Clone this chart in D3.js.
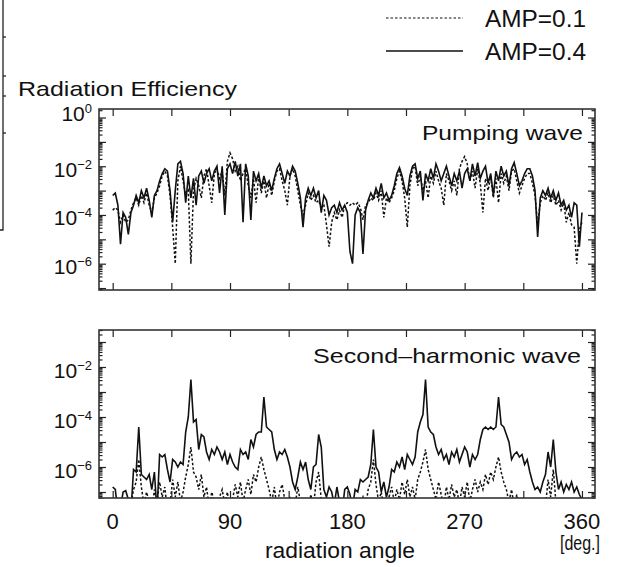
<!DOCTYPE html>
<html>
<head>
<meta charset="utf-8">
<script src="https://cdn.jsdelivr.net/npm/d3@7"></script>
<style>
  html, body { margin: 0; padding: 0; background: #fff; }
  svg { display: block; }
  text { font-family: "Liberation Sans", Arial, Helvetica, sans-serif; fill: #111; }
</style>
</head>
<body>
<svg id="chart" width="623" height="567"></svg>
<script>
// ---- DATA (log10 of radiation efficiency), sampled every 2 degrees from 0 to 360 ----
const angleStep = 2;
const angles = d3.range(0, 361, angleStep);

// Pumping wave, AMP=0.1 (dotted)
const pumpAmp01 = [
-3.8,-3.7,-3.8,-4.3,-4.0,-4.3,-4.2,-3.8,-3.5,-3.3,
-3.6,-3.2,-3.5,-3.1,-3.6,-3.9,-3.3,-3.1,-2.8,-2.4,
-2.2,-2.4,-3.2,-4.5,-6.0,-2.6,-2.0,-2.6,-3.2,-3.0,
-6.0,-3.0,-2.5,-2.8,-3.3,-2.4,-2.1,-2.8,-3.5,-2.3,
-2.1,-2.5,-2.2,-3.2,-1.8,-1.45,-1.7,-2.2,-2.0,-2.6,
-2.3,-2.1,-2.8,-3.3,-2.5,-3.5,-2.4,-3.1,-2.6,-3.3,
-2.7,-3.2,-2.6,-2.2,-2.1,-2.6,-3.0,-3.6,-2.4,-2.1,
-2.4,-3.0,-3.6,-4.0,-3.6,-3.1,-3.4,-3.2,-3.5,-3.4,
-3.7,-3.6,-4.4,-5.3,-4.3,-3.9,-4.2,-3.8,-4.1,-3.6,
-3.5,-3.6,-3.5,-3.6,-3.5,-3.7,-4.2,-3.6,-3.5,-3.3,
-3.4,-3.1,-3.4,-3.0,-4.1,-3.3,-3.5,-3.3,-3.0,-2.5,
-2.2,-2.6,-3.3,-4.5,-2.8,-2.1,-2.0,-2.8,-2.4,-3.0,
-2.6,-3.3,-2.4,-2.7,-2.2,-2.6,-2.9,-3.6,-2.3,-2.6,
-3.0,-2.6,-3.2,-2.1,-1.8,-1.6,-1.9,-2.6,-2.2,-2.9,
-2.1,-2.7,-3.9,-2.5,-3.0,-2.4,-3.3,-2.5,-3.5,-2.3,
-2.7,-2.4,-3.0,-2.2,-2.1,-2.6,-3.1,-2.8,-2.5,-2.3,
-2.3,-2.7,-3.2,-4.4,-3.5,-3.2,-3.4,-3.1,-3.5,-3.2,
-3.6,-3.4,-3.8,-3.5,-4.3,-3.9,-4.4,-4.5,-6.0,-4.6,
-4.3];

// Pumping wave, AMP=0.4 (solid)
const pumpAmp04 = [
-3.2,-3.1,-3.6,-5.2,-3.9,-4.1,-4.8,-3.9,-3.6,-3.2,
-3.5,-3.0,-3.3,-2.9,-3.4,-4.1,-3.2,-3.0,-2.6,-2.3,
-2.1,-2.2,-3.0,-4.3,-3.0,-1.9,-1.8,-2.3,-3.5,-2.4,
-3.3,-2.5,-3.6,-2.4,-2.2,-2.7,-2.3,-2.1,-2.6,-2.2,
-2.0,-3.1,-2.0,-4.0,-2.1,-1.9,-2.3,-1.8,-2.4,-1.9,
-4.3,-1.9,-2.4,-4.2,-2.2,-2.6,-2.3,-2.9,-2.4,-2.8,
-2.6,-3.0,-2.5,-2.1,-1.9,-2.3,-2.7,-2.2,-2.4,-2.0,
-2.2,-2.7,-3.3,-4.5,-3.3,-2.9,-3.2,-2.9,-3.3,-3.0,
-3.9,-3.2,-3.4,-4.0,-3.7,-3.6,-3.9,-3.5,-3.8,-3.6,
-3.9,-5.5,-6.0,-4.0,-3.7,-3.9,-5.6,-3.8,-3.4,-3.1,
-3.3,-2.9,-3.2,-2.7,-3.3,-3.1,-3.4,-3.2,-2.8,-2.3,
-2.05,-2.4,-2.9,-3.2,-2.4,-2.0,-1.9,-2.5,-2.2,-3.4,
-2.3,-2.6,-2.1,-2.5,-1.9,-2.2,-2.6,-2.3,-2.0,-2.4,
-2.8,-2.3,-2.6,-2.2,-2.9,-2.3,-2.1,-2.6,-1.9,-2.4,
-1.85,-2.5,-2.2,-2.0,-2.7,-2.3,-3.2,-2.2,-2.6,-2.0,
-2.4,-2.2,-2.8,-2.1,-1.85,-2.3,-2.8,-2.6,-2.3,-2.1,
-2.1,-2.4,-3.0,-4.9,-3.3,-3.0,-3.2,-2.9,-3.3,-3.0,
-3.4,-3.1,-3.6,-3.4,-3.8,-3.6,-4.1,-3.5,-3.6,-5.3,
-3.9];

// Second-harmonic wave, AMP=0.1 (dotted)
const shgAmp01 = [
-7.8,-7.8,-7.8,-7.8,-7.6,-7.8,-7.8,-7.5,-6.9,-6.6,
-5.7,-6.8,-7.5,-7.0,-7.4,-7.8,-6.9,-7.4,-6.6,-7.2,
-6.8,-7.8,-7.5,-6.5,-7.2,-6.6,-7.4,-7.0,-6.4,-5.9,
-5.2,-6.2,-6.4,-6.9,-6.3,-7.2,-6.8,-7.6,-7.0,-7.4,
-7.8,-7.2,-6.9,-7.5,-7.0,-7.8,-7.3,-6.7,-7.2,-6.6,
-7.4,-6.9,-6.5,-7.1,-6.3,-6.6,-6.0,-5.6,-6.1,-6.5,
-6.9,-7.4,-6.8,-7.6,-7.0,-6.7,-7.3,-7.8,-7.2,-7.8,
-7.5,-6.8,-7.4,-7.8,-7.4,-7.8,-7.1,-7.6,-6.6,-6.2,
-7.3,-7.8,-7.6,-7.8,-7.9,-7.7,-7.8,-8.0,-7.9,-7.8,
-7.8,-7.8,-7.9,-7.6,-7.8,-7.5,-7.2,-7.6,-6.9,-6.6,
-5.7,-6.7,-7.4,-7.0,-7.6,-7.8,-7.2,-6.8,-7.4,-6.9,
-7.3,-6.6,-7.1,-6.5,-7.2,-6.8,-7.3,-6.5,-6.2,-5.8,
-5.3,-6.1,-6.5,-6.9,-7.3,-6.6,-7.1,-7.6,-6.8,-7.3,
-6.7,-7.2,-6.9,-7.5,-6.8,-7.2,-6.6,-7.4,-6.9,-6.5,
-7.0,-6.6,-6.9,-6.3,-6.7,-6.2,-6.5,-6.0,-5.6,-6.2,
-6.6,-6.9,-7.4,-6.9,-7.6,-7.1,-7.8,-7.3,-7.8,-7.5,
-7.8,-7.9,-7.6,-7.8,-7.4,-7.8,-7.6,-6.5,-7.2,-6.1,
-7.4,-7.8,-7.6,-7.9,-7.8,-7.9,-7.7,-7.8,-7.9,-7.8,
-7.9];

// Second-harmonic wave, AMP=0.4 (solid)
const shgAmp04 = [
-6.8,-6.9,-7.8,-7.6,-7.0,-6.95,-7.3,-7.8,-6.1,-6.2,
-4.4,-6.3,-6.4,-6.5,-6.3,-6.9,-6.2,-7.8,-5.5,-5.6,
-5.5,-6.1,-6.6,-5.7,-5.8,-6.0,-5.8,-5.9,-4.6,-4.0,
-2.5,-4.2,-4.1,-5.3,-4.7,-4.8,-5.4,-5.7,-5.3,-5.5,
-5.2,-5.4,-5.7,-5.4,-5.9,-5.5,-5.8,-6.0,-6.1,-5.3,
-5.5,-5.4,-5.7,-4.9,-5.2,-4.7,-4.6,-4.6,-3.2,-4.4,
-4.5,-4.6,-5.3,-5.7,-5.4,-5.5,-5.3,-5.6,-6.0,-6.6,
-6.9,-6.4,-5.8,-6.1,-5.8,-6.5,-6.9,-6.0,-5.9,-4.7,
-5.2,-6.9,-7.2,-6.8,-7.0,-7.5,-6.8,-7.4,-7.8,-6.9,
-6.8,-7.1,-7.6,-6.9,-7.0,-6.5,-6.6,-6.5,-6.4,-5.9,
-4.5,-6.0,-6.2,-7.0,-6.6,-7.2,-6.8,-6.1,-6.2,-5.8,
-6.0,-5.6,-6.1,-5.5,-5.7,-5.9,-5.6,-4.6,-4.2,-3.9,
-2.5,-4.4,-4.6,-4.7,-5.2,-5.5,-5.3,-5.7,-5.5,-5.9,
-5.4,-5.6,-5.3,-5.8,-5.5,-5.2,-5.4,-6.0,-5.5,-5.7,
-5.5,-4.9,-4.5,-4.4,-4.5,-4.4,-4.5,-4.4,-3.2,-4.3,
-4.4,-4.7,-5.0,-5.7,-5.5,-5.4,-5.6,-5.5,-5.9,-5.7,
-6.2,-6.6,-6.9,-6.8,-7.0,-6.6,-6.3,-5.4,-6.0,-4.9,
-6.2,-6.9,-6.6,-7.0,-6.7,-6.9,-6.6,-7.0,-6.8,-7.1,
-7.3];

const xTickValues = [0, 90, 180, 270, 360];
const xMinorTickValues = [0, 45, 90, 135, 180, 225, 270, 315, 360];
const topYLabelExps = [0, -2, -4, -6];
const botYLabelExps = [-2, -4, -6];
const legendLabels = ["AMP=0.1", "AMP=0.4"];
const panelTitles = ["Pumping wave", "Second\u2013harmonic wave"];

// ---- DRAWING ----
const svg = d3.select("#chart");
const x = d3.scaleLinear().domain([-10.5, 370]).range([99, 595]);
const yTop = d3.scaleLog().domain([Math.pow(10, 0.35), Math.pow(10, -7.08)]).range([109, 290]);
const yBot = d3.scaleLog().domain([Math.pow(10, -0.52), Math.pow(10, -7.24)]).range([330, 498]);

function series(exps) { return angles.map((a, i) => ({a: a, v: Math.pow(10, exps[i])})); }

function logTicks(scale) {
  const [d0, d1] = scale.domain();
  const lo = Math.min(d0, d1), hi = Math.max(d0, d1);
  const major = [], minor = [];
  for (let k = -9; k <= 1; k++) {
    for (let m = 1; m <= 9; m++) {
      const v = m * Math.pow(10, k);
      if (v >= lo && v <= hi) (m === 1 ? major : minor).push(v);
    }
  }
  return {major, minor};
}

const defs = svg.append("defs");

function panel(y, id, dataDotted, dataSolid, title, titleY, titleEnd, titleLen, labelExps, firstLabelShift) {
  const [y0, y1] = y.range();
  const [x0, x1] = x.range();
  defs.append("clipPath").attr("id", id).append("rect")
    .attr("x", x0).attr("y", y0).attr("width", x1 - x0).attr("height", y1 - y0);

  const g = svg.append("g");
  const line = d3.line().x(d => x(d.a)).y(d => y(d.v));
  const plot = g.append("g").attr("clip-path", `url(#${id})`);
  plot.append("path").datum(series(dataDotted)).attr("d", line)
    .attr("fill", "none").attr("stroke", "#111").attr("stroke-width", 1.5)
    .attr("stroke-dasharray", "2.5,2");
  plot.append("path").datum(series(dataSolid)).attr("d", line)
    .attr("fill", "none").attr("stroke", "#111").attr("stroke-width", 1.6)
    .attr("stroke-linejoin", "miter");

  // axes ticks (inward)
  const t = logTicks(y);
  [d3.axisLeft(y).tickValues(t.major).tickSize(-7).tickFormat(""),
   d3.axisLeft(y).tickValues(t.minor).tickSize(-3.5).tickFormat("")].forEach(ax => {
    g.append("g").attr("transform", `translate(${x0},0)`).call(ax)
      .call(s => s.select(".domain").remove());
  });
  [d3.axisRight(y).tickValues(t.major).tickSize(-7).tickFormat(""),
   d3.axisRight(y).tickValues(t.minor).tickSize(-3.5).tickFormat("")].forEach(ax => {
    g.append("g").attr("transform", `translate(${x1},0)`).call(ax)
      .call(s => s.select(".domain").remove());
  });
  g.append("g").attr("transform", `translate(0,${y0})`)
    .call(d3.axisTop(x).tickValues(xMinorTickValues).tickSize(-7).tickFormat(""))
    .call(s => s.select(".domain").remove());
  g.append("g").attr("transform", `translate(0,${y1})`)
    .call(d3.axisBottom(x).tickValues(xMinorTickValues).tickSize(-7).tickFormat(""))
    .call(s => s.select(".domain").remove());
  g.selectAll(".tick line").attr("stroke", "#222").attr("stroke-width", 1.2);

  // frame
  g.append("rect").attr("x", x0).attr("y", y0).attr("width", x1 - x0).attr("height", y1 - y0)
    .attr("fill", "none").attr("stroke", "#333").attr("stroke-width", 1.6);

  // y labels
  labelExps.forEach((e, i) => {
    const ty = y(Math.pow(10, e)) + (i === 0 && firstLabelShift ? 3 : 10.5);
    const txt = svg.append("text").attr("x", 92).attr("y", ty).attr("text-anchor", "end")
      .style("font-size", "21px");
    txt.append("tspan").text("10");
    txt.append("tspan").attr("dy", -8).style("font-size", "13px")
      .text(e === 0 ? "0" : "\u2212" + Math.abs(e));
  });

  // panel title
  svg.append("text").attr("x", titleEnd).attr("y", titleY).attr("text-anchor", "end")
    .attr("textLength", titleLen).attr("lengthAdjust", "spacingAndGlyphs")
    .style("font-size", "21px").text(title);
}

panel(yTop, "clipTop", pumpAmp01, pumpAmp04, panelTitles[0], 140, 583, 161, topYLabelExps, true);
panel(yBot, "clipBot", shgAmp01, shgAmp04, panelTitles[1], 363, 581, 268, botYLabelExps, false);

// x tick labels
svg.selectAll(".xlab").data(xTickValues).join("text").attr("class", "xlab")
  .attr("x", d => x(d)).attr("y", 529).attr("text-anchor", "middle")
  .style("font-size", "22px").text(d => d);

svg.append("text").attr("x", 600).attr("y", 550).attr("text-anchor", "end")
  .attr("textLength", 40).attr("lengthAdjust", "spacingAndGlyphs")
  .style("font-size", "20px").text("[deg.]");
svg.append("text").attr("x", 340).attr("y", 558).attr("text-anchor", "middle")
  .attr("textLength", 150).attr("lengthAdjust", "spacingAndGlyphs")
  .style("font-size", "22px").text("radiation angle");

svg.append("text").attr("x", 18).attr("y", 96)
  .attr("textLength", 219).attr("lengthAdjust", "spacingAndGlyphs")
  .style("font-size", "21px").text("Radiation Efficiency");

// legend
const legY = [18, 51];
const legDash = ["2.5,2", null];
legendLabels.forEach((lab, i) => {
  svg.append("line").attr("x1", 386).attr("x2", 463).attr("y1", legY[i]).attr("y2", legY[i])
    .attr("stroke", "#111").attr("stroke-width", i === 0 ? 1.1 : 1.3)
    .attr("stroke-dasharray", legDash[i]);
  svg.append("text").attr("x", 485).attr("y", legY[i] + 8.5)
    .attr("textLength", 101).attr("lengthAdjust", "spacingAndGlyphs")
    .style("font-size", "23px").text(lab);
});

// left-edge remnant of a neighbouring frame
const edge = svg.append("g").attr("stroke", "#222").attr("stroke-width", 1.3).attr("fill", "none");
edge.append("path").attr("d", "M3,0V230H0");
[37, 76, 96, 133].forEach(v => edge.append("line").attr("x1", 3).attr("x2", 6).attr("y1", v).attr("y2", v));
</script>
</body>
</html>
